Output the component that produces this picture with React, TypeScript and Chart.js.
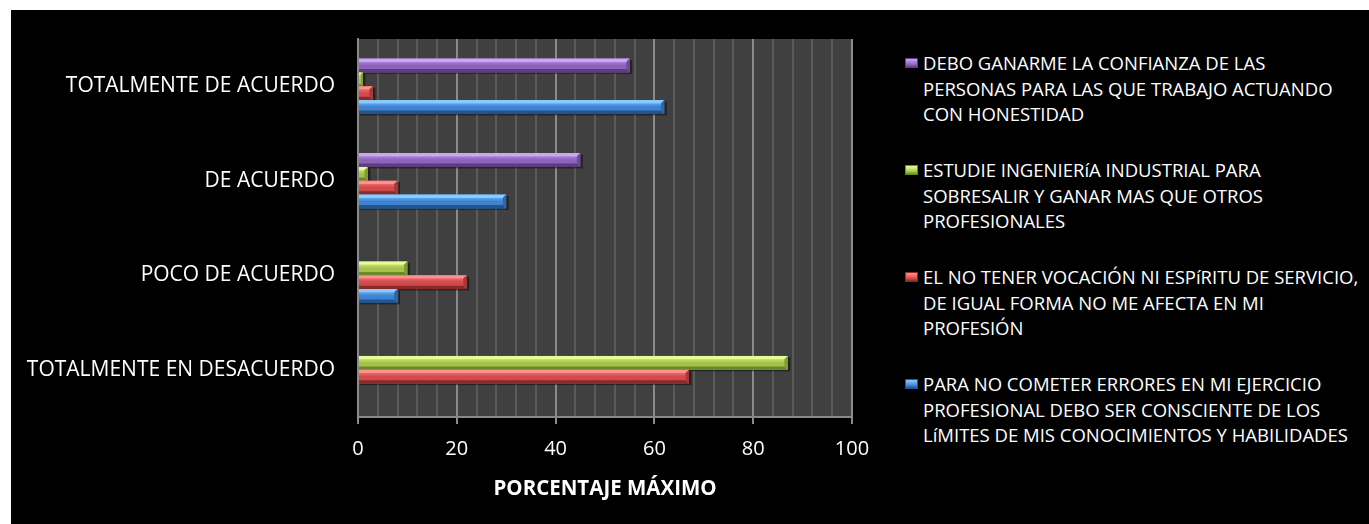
import React, { useEffect, useRef } from "react";
import { Chart, registerables } from "chart.js";

Chart.register(...registerables);

const categories = [
  "TOTALMENTE DE ACUERDO",
  "DE ACUERDO",
  "POCO DE ACUERDO",
  "TOTALMENTE EN DESACUERDO",
];

const seriesConfianza = [
  "DEBO GANARME LA CONFIANZA DE LAS",
  "PERSONAS PARA LAS QUE TRABAJO ACTUANDO",
  "CON HONESTIDAD",
];
const seriesIngenieria = [
  "ESTUDIE INGENIERíA INDUSTRIAL PARA",
  "SOBRESALIR Y GANAR MAS QUE OTROS",
  "PROFESIONALES",
];
const seriesVocacion = [
  "EL NO TENER VOCACIÓN NI ESPíRITU DE SERVICIO,",
  "DE IGUAL FORMA NO ME AFECTA EN MI",
  "PROFESIÓN",
];
const seriesErrores = [
  "PARA NO COMETER ERRORES EN MI EJERCICIO",
  "PROFESIONAL DEBO SER CONSCIENTE DE LOS",
  "LíMITES DE MIS CONOCIMIENTOS Y HABILIDADES",
];

const valuesConfianza = [55, 45, 0, 0];
const valuesIngenieria = [1, 2, 10, 87];
const valuesVocacion = [3, 8, 22, 67];
const valuesErrores = [62, 30, 8, 0];

const xTickLabels = [0, 20, 40, 60, 80, 100];
const axisTitle = "PORCENTAJE MÁXIMO";

type Pal = { light: string; faceTop: string; faceBottom: string; dark: string; right: string };

const palettes: Pal[] = [
  { light: "#cda6f2", faceTop: "#a87ed6", faceBottom: "#8d62ba", dark: "#5c3e7e", right: "#6e4b93" },
  { light: "#e8fc96", faceTop: "#c6e064", faceBottom: "#a6c24a", dark: "#6a8929", right: "#7e9b35" },
  { light: "#ff9090", faceTop: "#ee6666", faceBottom: "#d04b4b", dark: "#8a2929", right: "#a63838" },
  { light: "#8acaff", faceTop: "#5ca5ee", faceBottom: "#3e82d0", dark: "#24548f", right: "#2f67a8" },
];

const FONT = "'Open Sans', 'DejaVu Sans', sans-serif";

const plotBgPlugin = {
  id: "plotBg",
  beforeDraw(chart: any) {
    const { ctx, chartArea } = chart;
    ctx.save();
    ctx.fillStyle = "#404040";
    ctx.fillRect(chartArea.left, chartArea.top, chartArea.right - chartArea.left, chartArea.bottom - chartArea.top);
    ctx.restore();
  },
};

const bevelPlugin = {
  id: "bevel",
  afterDatasetsDraw(chart: any) {
    const ctx = chart.ctx;
    chart.data.datasets.forEach((_ds: any, i: number) => {
      const meta = chart.getDatasetMeta(i);
      const pal = palettes[i];
      meta.data.forEach((el: any) => {
        const p = el.getProps(["x", "y", "base", "height"], true);
        const x0 = Math.min(p.x, p.base);
        const x1 = Math.max(p.x, p.base);
        const w = x1 - x0;
        if (w < 0.5) return;
        const y0 = p.y - p.height / 2;
        const y1 = p.y + p.height / 2;
        const h = y1 - y0;
        const b = Math.min(h * 0.24, w / 2);
        ctx.save();
        ctx.fillStyle = "rgba(0,0,0,0.45)";
        ctx.fillRect(x0 + 1, y0 + 1.5, w + 1.5, h);
        ctx.fillStyle = pal.faceBottom;
        ctx.fillRect(x0, y0, w, h);
        const g = ctx.createLinearGradient(0, y0 + b, 0, y1 - b);
        g.addColorStop(0, pal.faceTop);
        g.addColorStop(0.5, pal.faceBottom);
        g.addColorStop(1, pal.faceBottom);
        ctx.fillStyle = g;
        ctx.fillRect(x0, y0 + b, w - b, h - 2 * b);
        ctx.fillStyle = pal.light;
        ctx.beginPath();
        ctx.moveTo(x0, y0);
        ctx.lineTo(x1, y0);
        ctx.lineTo(x1 - b, y0 + b);
        ctx.lineTo(x0, y0 + b);
        ctx.closePath();
        ctx.fill();
        ctx.fillStyle = pal.dark;
        ctx.beginPath();
        ctx.moveTo(x0, y1);
        ctx.lineTo(x1, y1);
        ctx.lineTo(x1 - b, y1 - b);
        ctx.lineTo(x0, y1 - b);
        ctx.closePath();
        ctx.fill();
        ctx.fillStyle = pal.right;
        ctx.beginPath();
        ctx.moveTo(x1, y0);
        ctx.lineTo(x1, y1);
        ctx.lineTo(x1 - b, y1 - b);
        ctx.lineTo(x1 - b, y0 + b);
        ctx.closePath();
        ctx.fill();
        ctx.restore();
      });
    });
  },
};

const legendItems = [
  { lines: seriesConfianza, pal: palettes[0] },
  { lines: seriesIngenieria, pal: palettes[1] },
  { lines: seriesVocacion, pal: palettes[2] },
  { lines: seriesErrores, pal: palettes[3] },
];

export default function App() {
  const canvasRef = useRef<HTMLCanvasElement | null>(null);

  useEffect(() => {
    if (!canvasRef.current) return;
    const isMajor = (v: number) => xTickLabels.includes(Math.round(v));
    const chart = new Chart(canvasRef.current, {
      type: "bar",
      data: {
        labels: categories,
        datasets: [
          { label: seriesConfianza.join(" "), data: valuesConfianza, backgroundColor: "rgba(0,0,0,0)", borderWidth: 0 },
          { label: seriesIngenieria.join(" "), data: valuesIngenieria, backgroundColor: "rgba(0,0,0,0)", borderWidth: 0 },
          { label: seriesVocacion.join(" "), data: valuesVocacion, backgroundColor: "rgba(0,0,0,0)", borderWidth: 0 },
          { label: seriesErrores.join(" "), data: valuesErrores, backgroundColor: "rgba(0,0,0,0)", borderWidth: 0 },
        ],
      },
      options: {
        indexAxis: "y",
        responsive: false,
        animation: false,
        devicePixelRatio: 1,
        layout: { padding: { top: 29, right: 39, bottom: 23, left: 0 } },
        plugins: { legend: { display: false }, tooltip: { enabled: false } },
        datasets: { bar: { categoryPercentage: 0.585, barPercentage: 1 } },
        scales: {
          x: {
            type: "linear",
            min: 0,
            max: 100,
            ticks: {
              stepSize: 4,
              autoSkip: false,
              maxRotation: 0,
              color: "#ffffff",
              font: { family: FONT, size: 20 },
              padding: 13,
              callback: (v: any) => (isMajor(Number(v)) ? String(Math.round(Number(v))) : ""),
            },
            grid: {
              color: (c: any) => (c.tick && isMajor(c.tick.value) ? "#8a8a8a" : "#5a5a5a"),
              lineWidth: 2,
              tickColor: (c: any) => (c.tick && isMajor(c.tick.value) ? "#8a8a8a" : "rgba(0,0,0,0)"),
              tickLength: 7,
              drawTicks: true,
            },
            border: { color: "#8a8a8a", width: 2 },
            title: {
              display: true,
              text: axisTitle,
              color: "#ffffff",
              font: { family: FONT, size: 20.5, weight: "bold" },
              padding: 0,
            },
            afterFit: (s: any) => {
              s.height = 84;
            },
          },
          y: {
            ticks: { color: "#ffffff", font: { family: FONT, size: 21 }, padding: 0 },
            grid: { display: false, drawTicks: true, tickLength: 23 },
            border: { color: "#8a8a8a", width: 2 },
            afterFit: (s: any) => {
              s.width = 347;
            },
          },
        },
      } as any,
      plugins: [plotBgPlugin, bevelPlugin],
    });
    return () => chart.destroy();
  }, []);

  return (
    <div style={{ position: "absolute", left: 0, top: 0, width: 1369, height: 524, background: "#ffffff", overflow: "hidden" }}>
      <div style={{ position: "absolute", left: 11, top: 10, width: 1358, height: 514, background: "#000000" }}>
        <canvas ref={canvasRef} width={880} height={514} style={{ position: "absolute", left: 0, top: 0, width: 880, height: 514 }} />
        {legendItems.map((it, i) => (
          <div
            key={i}
            style={{
              position: "absolute",
              left: 894,
              top: 40 + i * 107,
              fontFamily: FONT,
              fontSize: 18.5,
              lineHeight: "25.7px",
              color: "#ffffff",
              whiteSpace: "nowrap",
            }}
          >
            <div
              style={{
                position: "absolute",
                left: 0,
                top: 8,
                width: 13,
                height: 10,
                boxSizing: "border-box",
                border: `1px solid ${it.pal.dark}`,
                background: `linear-gradient(to bottom, ${it.pal.light} 0%, ${it.pal.faceTop} 40%, ${it.pal.faceBottom} 70%, ${it.pal.dark} 100%)`,
              }}
            />
            <div style={{ marginLeft: 18 }}>
              {it.lines.map((l, j) => (
                <div key={j}>{l}</div>
              ))}
            </div>
          </div>
        ))}
      </div>
    </div>
  );
}
